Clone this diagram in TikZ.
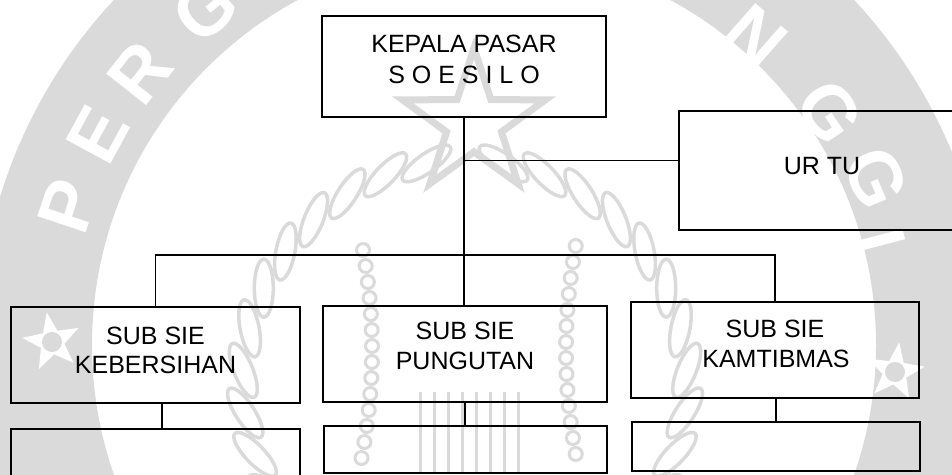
\documentclass[tikz,border=0pt]{standalone}
\usepackage{fontspec}
\setmainfont{Liberation Sans}
\usetikzlibrary{shapes.geometric,calc}
\definecolor{wmgrey}{RGB}{218,218,218}
\tikzset{
  box/.style={draw=black, line width=1.6pt, inner sep=0pt},
  lbl/.style={font=\fontsize{25}{30}\selectfont, inner sep=0pt, anchor=base},
  link/.style={draw=black, line width=1.6pt},
  wmletter/.style={text=white, font=\fontsize{74}{80}\selectfont\bfseries, inner sep=0pt},
  wmstar/.style={star, star points=5, star point ratio=2.4, fill=white, inner sep=0pt, minimum size=60pt},
  wmleaf/.style={draw=wmgrey, line width=3.5pt, ellipse, minimum width=58pt, minimum height=19pt, inner sep=0pt},
  wmbead/.style={draw=wmgrey, line width=3pt, circle, minimum size=13pt, inner sep=0pt},
}
\begin{document}
\begin{tikzpicture}[x=1pt,y=-1pt]
\useasboundingbox (0,0) rectangle (952,474);
\clip (0,0) rectangle (952,474);

% --- faint seal in the background ---
\coordinate (C) at (484,345);
\fill[wmgrey, even odd rule] (C) circle (506) (C) circle (392);
\node[wmletter, rotate=71.5]  (wP)  at (68,206)  {P};
\node[wmletter, rotate=61.5]  (wE)  at (98,135)  {E};
\node[wmletter, rotate=51.7]  (wR)  at (140,73)  {R};
\node[wmletter, rotate=39.8]  (wG)  at (205,10)  {G};
\node[wmletter, rotate=-41.3] (wN)  at (755,37)  {N};
\node[wmletter, rotate=-56]   (wG2) at (830,112) {G};
\node[wmletter, rotate=-67]   (wG3) at (876,178) {G};
\node[wmletter, rotate=-75.3] (wI)  at (880,241) {I};
\node[wmstar, rotate=10] (wsL) at (52,342) {};
\fill[wmgrey] (wsL.center) circle (10);
\node[wmstar, rotate=-8] (wsR) at (895,372) {};
\fill[wmgrey] (wsR.center) circle (10);
% star, wreath, rice ears and pillar of the seal
\node[star, star points=5, star point ratio=2.6, draw=wmgrey, line width=7pt,
      minimum size=150pt, inner sep=0pt] (wsT) at (474,123) {};
\coordinate (W) at (465,382);
\foreach \a in {100,111,...,222}
  \node[wmleaf, rotate=\a+115] at ($(W)+(-\a:222)$) {};
\foreach \a in {80,69,...,-42}
  \node[wmleaf, rotate=\a+65] at ($(W)+(-\a:222)$) {};
\foreach \y in {250,266,...,460}
  \node[wmbead] at ({372-0.0009*(\y-350)*(\y-350)},\y) {};
\foreach \y in {246,262,...,460}
  \node[wmbead] at ({566+0.0009*(\y-350)*(\y-350)},\y) {};
\foreach \x in {420,434,...,518}
  \draw[wmgrey, line width=3pt] (\x,392) -- (\x,474);

% --- organisation chart ---
\node[box, minimum width=284pt, minimum height=101pt] (kepala) at (464,66.5) {};
\node[lbl] (kepala1) at (464,52) {KEPALA PASAR};
\node[lbl] (kepala2) at (464,83) {S O E S I L O};

\node[box, minimum width=290pt, minimum height=119pt, anchor=north west] (urtu) at (678,110) {};
\node[lbl] (urtu1) at (822,174) {UR TU};

\node[box, minimum width=289pt, minimum height=96pt] (keb) at (155.5,355) {};
\node[lbl] (keb1) at (155.5,344) {SUB SIE};
\node[lbl] (keb2) at (155.5,373) {KEBERSIHAN};

\node[box, minimum width=284pt, minimum height=96pt] (pung) at (465,354) {};
\node[lbl] (pung1) at (465,339) {SUB SIE};
\node[lbl] (pung2) at (465,369) {PUNGUTAN};

\node[box, minimum width=288pt, minimum height=96pt] (kam) at (775,350) {};
\node[lbl] (kam1) at (775,337) {SUB SIE};
\node[lbl] (kam2) at (776,367) {KAMTIBMAS};

\node[box, minimum width=289pt, minimum height=52pt, anchor=north] (kebB) at (155.5,428) {};
\node[box, minimum width=283pt, minimum height=47pt, anchor=north] (pungB) at (465.5,425) {};
\node[box, minimum width=288pt, minimum height=49pt, anchor=north] (kamB) at (776,421) {};

% connectors
\draw[link] (kepala.south) -- (kepala.south |- pung.north);
\draw[link] ([yshift=10pt]urtu.west) -- ([yshift=10pt]urtu.west -| kepala.south);
\draw[link] (keb.north) -- ++(0,-51) -| (kam.north);
\draw[link] ([xshift=6.5pt]keb.south) -- ([xshift=6.5pt]kebB.north);
\draw[link] (pung.south) -- (pung.south |- pungB.north);
\draw[link] ([xshift=1pt]kam.south) -- (kamB.north);
\end{tikzpicture}
\end{document}
